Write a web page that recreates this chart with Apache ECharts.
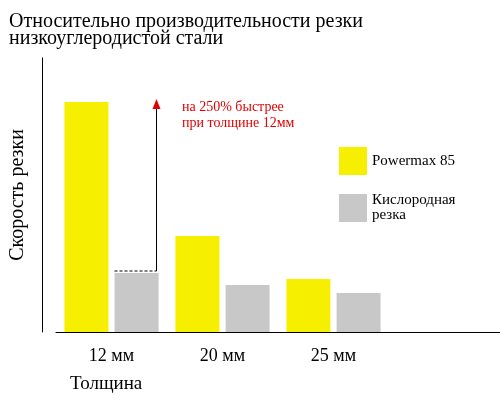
<!DOCTYPE html>
<html><head><meta charset="utf-8">
<script src="https://cdn.jsdelivr.net/npm/echarts@6/dist/echarts.min.js"></script>
<style>html,body{margin:0;padding:0}#c{width:500px;height:400px}</style></head>
<body><div id="c"></div>
<script>
const categories = ['12 мм', '20 мм', '25 мм', ''];
const powermax = [230, 96, 53, null];
const oxygen = [59, 47, 39, null];
const F = 'Liberation Serif';
const chart = echarts.init(document.getElementById('c'));
chart.setOption({
  animation: false,
  textStyle: {fontFamily: F},
  title: {text: 'Относительно производительности резки\nнизкоуглеродистой стали', left: 4, top: 8,
    textStyle: {fontFamily: F, fontSize: 20, fontWeight: 'normal', color: '#000', lineHeight: 17}},
  legend: {orient: 'vertical', left: 334, top: 142, itemWidth: 28, itemHeight: 28, itemGap: 18,
    icon: 'rect', textStyle: {fontFamily: F, fontSize: 15, color: '#000', lineHeight: 15}},
  grid: {left: 52, right: 0, top: 58, bottom: 68},
  xAxis: {type: 'category', data: categories,
    axisLine: {lineStyle: {color: '#000'}}, axisTick: {show: false},
    axisLabel: {fontFamily: F, fontSize: 18, color: '#000', margin: 15},
    name: 'Толщина', nameLocation: 'start', nameGap: 0,
    nameTextStyle: {fontFamily: F, fontSize: 19, color: '#000', align: 'left', verticalAlign: 'top', padding: [43, 0, 0, 14]}},
  yAxis: {type: 'value', min: 0, max: 274, offset: 14,
    axisLine: {show: true, lineStyle: {color: '#000'}}, axisTick: {show: false},
    axisLabel: {show: false}, splitLine: {show: false},
    name: 'Скорость резки', nameLocation: 'middle', nameGap: 14,
    nameTextStyle: {fontFamily: F, fontSize: 20, color: '#000'}},
  series: [
    {name: 'Powermax 85', type: 'bar', data: powermax, barWidth: 44, barGap: '14%', itemStyle: {color: '#f7ef00'}},
    {name: 'Кислородная\nрезка', type: 'bar', data: oxygen, barWidth: 44, itemStyle: {color: '#c8c8c8'}}
  ]
});
const pGray = chart.convertToPixel({seriesIndex: 1}, [0, oxygen[0]]);
const pYel = chart.convertToPixel({seriesIndex: 0}, [0, powermax[0]]);
const gc = pGray[0] + 25;
const xr = gc + 20;
chart.setOption({graphic: [
  {type: 'line', shape: {x1: gc - 22, y1: pGray[1] - 2, x2: xr, y2: pGray[1] - 2},
   style: {stroke: '#000', lineDash: [3, 2], lineWidth: 1}},
  {type: 'line', shape: {x1: xr, y1: pGray[1] - 2, x2: xr, y2: pYel[1] + 4},
   style: {stroke: '#000', lineWidth: 1}},
  {type: 'polygon', shape: {points: [[xr - 4, pYel[1] + 7], [xr + 4, pYel[1] + 7], [xr, pYel[1] - 3]]},
   style: {fill: '#e00000'}},
  {type: 'text', left: 182, top: 99, style: {text: 'на 250% быстрее\nпри толщине 12мм',
   font: '14px "Liberation Serif"', fill: '#e00000', lineHeight: 16}}
]});
</script></body></html>
